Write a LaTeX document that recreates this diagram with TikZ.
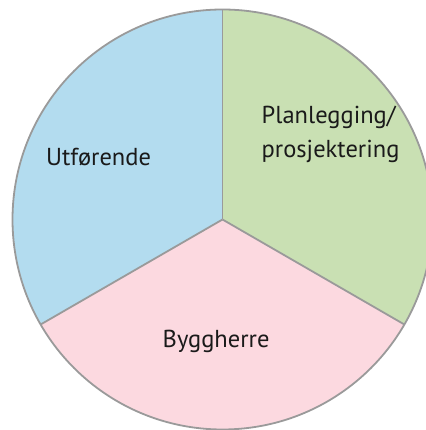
\documentclass[tikz,border=0pt]{standalone}
\usepackage{fontspec}
\setmainfont{PT Sans}
\definecolor{cblue}{HTML}{B3DCEF}
\definecolor{cgreen}{HTML}{C9E0B3}
\definecolor{cpink}{HTML}{FCD9E0}
\definecolor{cline}{HTML}{9A9A9A}
\definecolor{ctext}{HTML}{1A1A1A}
\begin{document}
\begin{tikzpicture}[x=1pt,y=1pt,
  sector/.style={draw=cline,line width=1.8pt,line join=round},
  lbl/.style={font=\fontsize{24.5}{34}\selectfont,text=ctext,align=left,inner sep=0pt}]
\useasboundingbox (0,0) rectangle (425,430);
\coordinate (c) at (222.5,210.5);
\def\R{210}
\fill[cblue] (c) -- ++(90:\R) arc[start angle=90,end angle=210,radius=\R] -- cycle;
\fill[cpink] (c) -- ++(210:\R) arc[start angle=210,end angle=330,radius=\R] -- cycle;
\fill[cgreen] (c) -- ++(330:\R) arc[start angle=330,end angle=450,radius=\R] -- cycle;
\draw[sector] (c) circle[radius=\R];
\draw[sector] (c) -- ++(90:\R);
\draw[sector] (c) -- ++(210:\R);
\draw[sector] (c) -- ++(330:\R);
\node[lbl,anchor=base west] (u) at (46,264.3) {Utførende};
\node[lbl,anchor=base west] (p) at (261.5,272.7) {Planlegging/\\prosjektering};
\node[lbl,anchor=base west] (b) at (162.5,82.3) {Byggherre};
\end{tikzpicture}
\end{document}
